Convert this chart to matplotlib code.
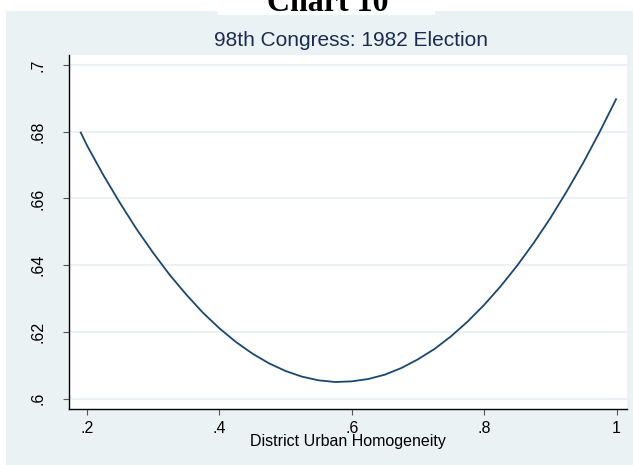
import matplotlib
matplotlib.use("Agg")
import matplotlib.pyplot as plt
from matplotlib.patches import Rectangle

# Fitted vote share against district urban homogeneity
homogeneity = [0.19, 0.2, 0.225, 0.25, 0.275, 0.3, 0.325, 0.35, 0.375, 0.4,
               0.425, 0.45, 0.475, 0.5, 0.525, 0.55, 0.575, 0.6, 0.625, 0.65,
               0.675, 0.7, 0.725, 0.75, 0.775, 0.8, 0.825, 0.85, 0.875, 0.9,
               0.925, 0.95, 0.975, 1.0]
fitted = [0.680, 0.6759, 0.6669, 0.6586, 0.6508, 0.6437, 0.6371, 0.6312, 0.6258, 0.6211,
          0.6170, 0.6135, 0.6106, 0.6083, 0.6066, 0.6055, 0.6050, 0.6052, 0.6059, 0.6072,
          0.6092, 0.6118, 0.6149, 0.6187, 0.6231, 0.6281, 0.6337, 0.6399, 0.6467, 0.6541,
          0.6622, 0.6708, 0.6801, 0.690]

x_ticks = [0.2, 0.4, 0.6, 0.8, 1.0]
x_tick_labels = [".2", ".4", ".6", ".8", "1"]
y_ticks = [0.6, 0.62, 0.64, 0.66, 0.68, 0.7]
y_tick_labels = [".6", ".62", ".64", ".66", ".68", ".7"]

W, H = 633, 465
fig = plt.figure(figsize=(W / 100, H / 100), dpi=100)
fig.patch.set_facecolor("white")

panel = "#EAF2F3"
# graph region background
fig.patches.append(Rectangle((6 / W, 0), (W - 6) / W, (H - 11) / H,
                             transform=fig.transFigure, facecolor=panel,
                             edgecolor="none", zorder=-2))
# white strip behind the page heading
fig.patches.append(Rectangle((218 / W, 1 - 15 / H), (435 - 218) / W, 15 / H,
                             transform=fig.transFigure, facecolor="white",
                             edgecolor="none", zorder=-1))

fig.text(328 / W, 1 - 11 / H, "Chart 10", ha="center", va="baseline",
         family="Liberation Serif", fontweight="bold", fontsize=23, color="black")
fig.text(351 / W, 1 - 46 / H, "98th Congress: 1982 Election", ha="center", va="baseline",
         family="Liberation Sans", fontsize=15, color="#1c2b52")

left, right, top, bottom = 69, 627, 55, 409
ax = fig.add_axes([left / W, 1 - bottom / H, (right - left) / W, (bottom - top) / H])
ax.set_zorder(2)
ax.set_facecolor("white")

ax.plot(homogeneity, fitted, color="#1a476f", lw=1.3, solid_capstyle="butt", zorder=3)

ax.set_xlim(0.2 - 18 / 661.9, 1.0 + 10.5 / 661.9)
ax.set_ylim(0.6 - 10.3 / 3337, 0.7 + 10 / 3337)

ax.set_xticks(x_ticks)
ax.set_xticklabels(x_tick_labels, family="Liberation Sans", fontsize=11.5)
ax.set_yticks(y_ticks)
ax.set_yticklabels(y_tick_labels, family="Liberation Sans", fontsize=11.5,
                   rotation=90, ha="center", va="center")

ax.grid(axis="y", color=panel, lw=1.5, zorder=0)
ax.set_axisbelow(True)

for side in ("top", "right"):
    ax.spines[side].set_visible(False)
for side in ("left", "bottom"):
    ax.spines[side].set_color("black")
    ax.spines[side].set_linewidth(1.0)

ax.tick_params(axis="both", direction="out", length=4.3, width=0.8, color="#555555")
ax.tick_params(axis="x", pad=4)
ax.tick_params(axis="y", pad=18)

ax.set_xlabel("District Urban Homogeneity", family="Liberation Sans", fontsize=11.5,
              labelpad=-1)

fig.savefig("out.png", dpi=100, facecolor=fig.get_facecolor())
